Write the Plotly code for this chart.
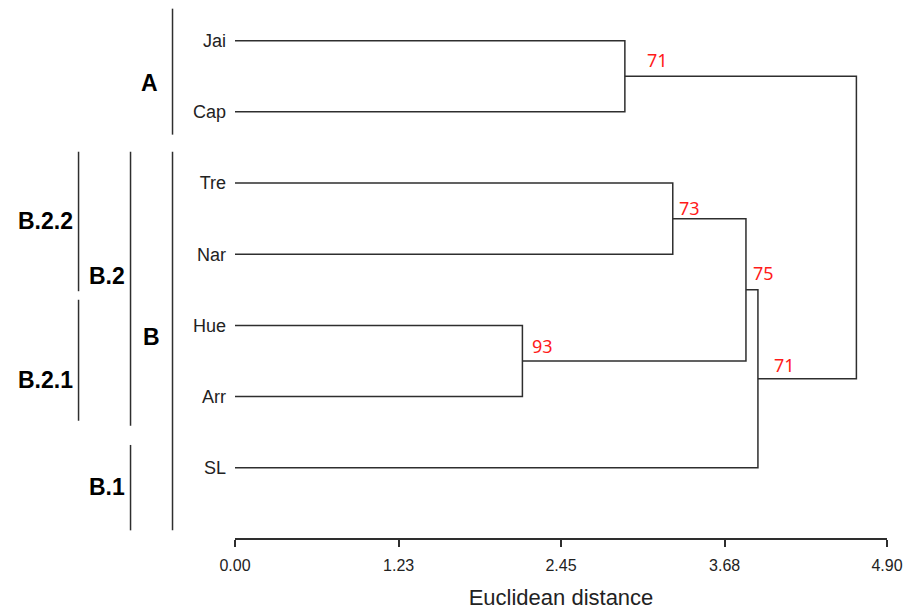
import plotly.graph_objects as go

# ---------------- data ----------------
leaves = ["Jai", "Cap", "Tre", "Nar", "Hue", "Arr", "SL"]
# merges: (left child, right child, height (Euclidean distance), bootstrap label)
merge_left = ["Jai", "Hue", "Tre", "Tre+Nar", "Tre+Nar+Hue+Arr", "Jai+Cap"]
merge_right = ["Cap", "Arr", "Nar", "Hue+Arr", "SL", "Tre+Nar+Hue+Arr+SL"]
merge_height = [2.93, 2.16, 3.29, 3.84, 3.93, 4.67]
merge_support = ["71", "93", "73", "75", "71", ""]

tick_vals = [0.00, 1.23, 2.45, 3.68, 4.90]
tick_text = ["0.00", "1.23", "2.45", "3.68", "4.90"]

group_names = ["A", "B", "B.2", "B.1", "B.2.2", "B.2.1"]
group_top = [-0.45, 1.56, 1.56, 5.68, 1.56, 3.64]      # in leaf units
group_bottom = [1.32, 6.88, 5.41, 6.88, 3.52, 5.34]
group_label_y = [0.59, 4.16, 3.31, 6.27, 2.53, 4.77]

# ---------------- styling ----------------
OFF = 8                      # page body margin
W, H = 918 - OFF, 611 - OFF
ML = 234.5 - OFF
MR = W - (886.7 - OFF)
MT = 0
MB = H - (538 - OFF)
plot_w = W - ML - MR
LEAF0, LEAF_STEP = 40.7, 71.17   # page px of first leaf and spacing
group_bar_px = [172, 172, 130, 130, 78, 78]   # page px
group_gap_px = [13, 11, 4, 4, 4, 4]
support_xshift = [20, 8, 4, 5, 14, 0]
support_yshift = [16, 15, 11, 17, 14, 0]
LINE = "#2e2e2e"

# ---------------- build dendrogram ----------------
ypos = {name: float(i) for i, name in enumerate(leaves)}
hpos = {name: 0.0 for name in leaves}
xs, ys = [], []
node_xy = []
for l, r, h in zip(merge_left, merge_right, merge_height):
    yl, yr = ypos[l], ypos[r]
    xs += [hpos[l], h, h, hpos[r], None]
    ys += [yl, yl, yr, yr, None]
    name = l + "+" + r
    ypos[name] = (yl + yr) / 2
    hpos[name] = h
    node_xy.append((h, (yl + yr) / 2))

fig = go.Figure()
fig.add_trace(go.Scatter(x=xs, y=ys, mode="lines",
                         line=dict(color=LINE, width=1.5),
                         hoverinfo="skip", showlegend=False, cliponaxis=False))

annotations = []
for (nx, ny), s, dx, dy in zip(node_xy, merge_support, support_xshift, support_yshift):
    if not s:
        continue
    annotations.append(dict(x=nx, y=ny, xref="x", yref="y", text=s, showarrow=False,
                            xanchor="left", yanchor="middle", xshift=dx, yshift=dy,
                            font=dict(family="Noto Sans", size=18, color="#ff1a1a")))

shapes = []
for name, t, b, ly, bx, gap in zip(group_names, group_top, group_bottom,
                                    group_label_y, group_bar_px, group_gap_px):
    px = (bx - OFF - ML) / plot_w
    shapes.append(dict(type="line", xref="paper", yref="y", x0=px, x1=px, y0=t, y1=b,
                       line=dict(color=LINE, width=1.5)))
    annotations.append(dict(x=(bx - gap - OFF - ML) / plot_w, y=ly, xref="paper", yref="y",
                            text="<b>" + name + "</b>", showarrow=False,
                            xanchor="right", yanchor="middle",
                            font=dict(family="Liberation Sans", size=23, color="#000000")))

y_top = (MT + OFF - LEAF0) / LEAF_STEP
y_bot = (H - MB + OFF - LEAF0) / LEAF_STEP

fig.update_layout(
    width=W, height=H,
    margin=dict(l=ML, r=MR, t=MT, b=MB, pad=0, autoexpand=False),
    paper_bgcolor="white", plot_bgcolor="white",
    shapes=shapes, annotations=annotations,
    xaxis=dict(range=[0, 4.90], tickvals=tick_vals, ticktext=tick_text,
               showgrid=False, zeroline=False, showline=True, linecolor=LINE,
               linewidth=1.5, ticks="outside", ticklen=7, tickwidth=1.5, tickcolor=LINE,
               tickfont=dict(family="Liberation Sans", size=16, color="#222222"),
               ticklabelstandoff=5,
               title=dict(text="Euclidean distance", standoff=17,
                          font=dict(family="Liberation Sans", size=22, color="#222222"))),
    yaxis=dict(range=[y_bot, y_top], tickvals=list(range(len(leaves))), ticktext=leaves,
               showgrid=False, zeroline=False, showline=False, ticks="",
               ticklabelstandoff=8,
               tickfont=dict(family="Liberation Sans", size=18, color="#222222")),
)

fig.write_html("out.html")
